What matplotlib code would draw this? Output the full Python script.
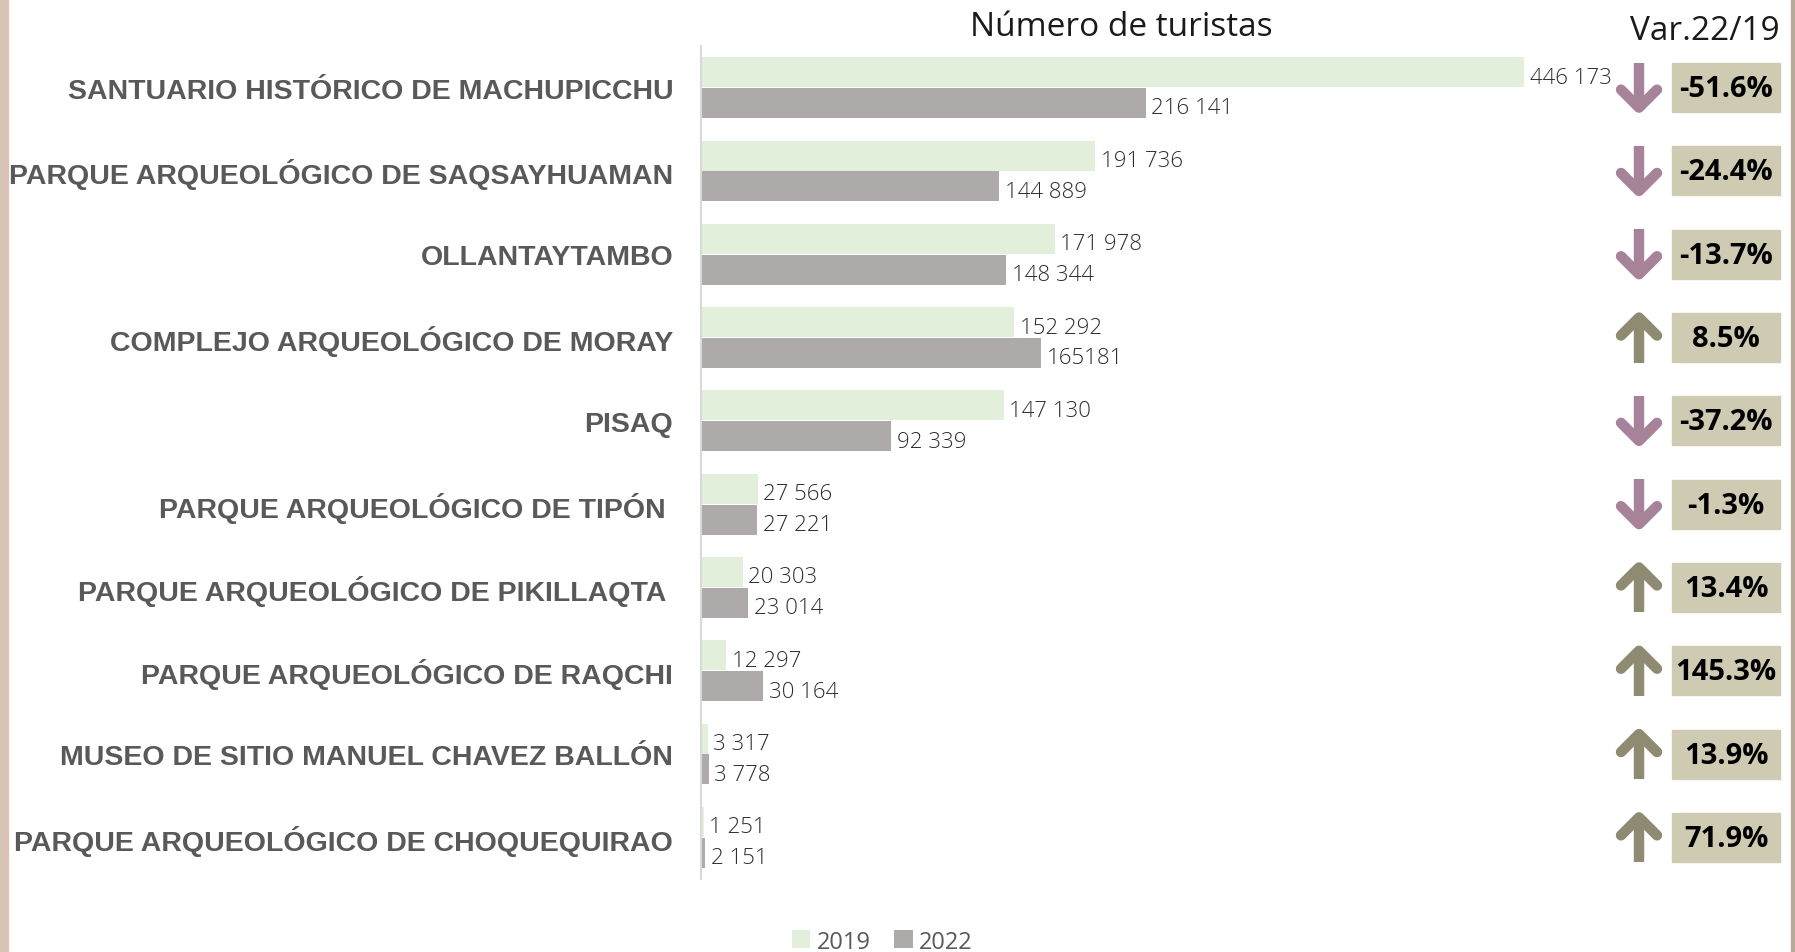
import numpy as np
import matplotlib.pyplot as plt
from matplotlib.patches import Rectangle

# datos
sitios = ['SANTUARIO HISTÓRICO DE MACHUPICCHU',
          'PARQUE ARQUEOLÓGICO DE SAQSAYHUAMAN',
          'OLLANTAYTAMBO',
          'COMPLEJO ARQUEOLÓGICO DE MORAY',
          'PISAQ',
          'PARQUE ARQUEOLÓGICO DE TIPÓN ',
          'PARQUE ARQUEOLÓGICO DE PIKILLAQTA ',
          'PARQUE ARQUEOLÓGICO DE RAQCHI',
          'MUSEO DE SITIO MANUEL CHAVEZ BALLÓN',
          'PARQUE ARQUEOLÓGICO DE CHOQUEQUIRAO']
visitas_2019 = [446173, 191736, 171978, 152292, 147130, 27566, 20303, 12297, 3317, 1251]
visitas_2022 = [216141, 144889, 148344, 165181, 92339, 27221, 23014, 30164, 3778, 2151]
etiquetas_2019 = ['446 173', '191 736', '171 978', '152 292', '147 130',
                  '27 566', '20 303', '12 297', '3 317', '1 251']
etiquetas_2022 = ['216 141', '144 889', '148 344', '165181', '92 339',
                  '27 221', '23 014', '30 164', '3 778', '2 151']

W, H = 1795, 953
XMAX = 400000
fuente = 'Open Sans'

fig = plt.figure(figsize=(W / 100, H / 100), dpi=100)
fig.patch.set_facecolor('white')

# franjas de la foto de fondo en los bordes
fig.patches.append(Rectangle((0, 0), 8 / W, 1, transform=fig.transFigure, color='#d9c3b7', zorder=0))
fig.patches.append(Rectangle((1791 / W, 0), 4 / W, 1, transform=fig.transFigure, color='#b9a99a', zorder=0))

ax = fig.add_axes([701 / W, 1 - 880 / H, (1524 - 701) / W, (880 - 47) / H])
y = np.arange(len(sitios))
b1 = ax.barh(y - 0.185, visitas_2019, height=0.36, color='#e2efda', label='2019')
b2 = ax.barh(y + 0.185, visitas_2022, height=0.36, color='#aeaaaa', label='2022')

ax.set_xlim(0, XMAX)
ax.set_ylim(len(sitios) - 0.5, -0.5)
for s in ['top', 'right', 'bottom']:
    ax.spines[s].set_visible(False)
ax.spines['left'].set_color('#d9d9d9')
ax.spines['left'].set_linewidth(1.5)
ax.set_xticks([])
ax.set_yticks(y)
ax.set_yticklabels(sitios, fontfamily='Liberation Sans', fontweight='bold',
                   fontsize=20.5, color='#595959')
ax.tick_params(axis='y', length=0, pad=20)

# etiquetas de datos
for i in range(len(sitios)):
    ax.annotate(etiquetas_2019[i], (min(visitas_2019[i], XMAX), i - 0.185),
                xytext=(4, -3.5), textcoords='offset points', va='center', ha='left',
                fontsize=16, family=fuente, fontweight='light', color='#2e2e2e',
                annotation_clip=False)
    ax.annotate(etiquetas_2022[i], (visitas_2022[i], i + 0.185),
                xytext=(4, -3.5), textcoords='offset points', va='center', ha='left',
                fontsize=16, family=fuente, fontweight='light', color='#2e2e2e',
                annotation_clip=False)

# capa superior en pixeles para flechas y cajas
ov = fig.add_axes([0, 0, 1, 1])
ov.set_xlim(0, W)
ov.set_ylim(H, 0)
ov.axis('off')

lw = 7.5
xa = 1639
for i in range(len(sitios)):
    yc = H - ax.transData.transform((0, i))[1]
    var = (visitas_2022[i] / visitas_2019[i] - 1) * 100
    if var < 0:
        c = '#a7839a'
        ov.plot([xa, xa], [yc - 25, yc + 18], color=c, lw=lw, solid_capstyle='butt')
        ov.plot([xa - 18, xa, xa + 18], [yc + 2, yc + 20, yc + 2], color=c, lw=lw,
                solid_capstyle='round', solid_joinstyle='round')
    else:
        c = '#8e8b72'
        ov.plot([xa, xa], [yc + 25, yc - 18], color=c, lw=lw, solid_capstyle='butt')
        ov.plot([xa - 18, xa, xa + 18], [yc - 2, yc - 20, yc - 2], color=c, lw=lw,
                solid_capstyle='round', solid_joinstyle='round')
    ov.add_patch(Rectangle((1672, yc - 24.5), 108, 49, color='#cfcbb3'))
    ov.text(1726, yc + 1, f'{var:.1f}%', ha='center', va='center', fontsize=21,
            family=fuente, fontweight='bold', color='black')

# titulos
fig.text(1121 / W, 1 - 27 / H, 'Número de turistas', ha='center', va='center',
         fontsize=24, family=fuente, color='#1a1a1a')
fig.text(1705 / W, 1 - 31 / H, 'Var.22/19', ha='center', va='center',
         fontsize=24, family=fuente, color='#1a1a1a')

# leyenda
fig.legend(handles=[b1, b2], loc='lower center', bbox_to_anchor=(882 / W, -0.024),
           ncol=2, frameon=False, handlelength=0.8, handleheight=0.8,
           handletextpad=0.25, columnspacing=1.0, labelcolor='#595959',
           prop={'family': fuente, 'size': 17})

fig.savefig('out.png', dpi=100)
